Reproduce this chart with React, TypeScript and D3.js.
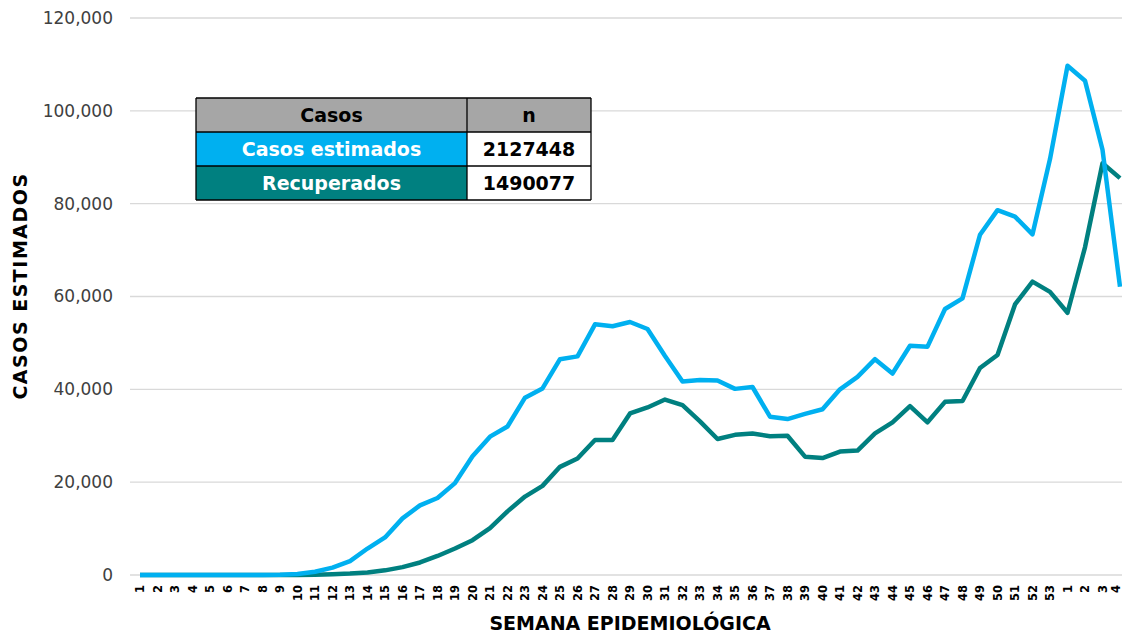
import React from "react";
import * as d3 from "d3";

const weeks: string[] = [
  "1","2","3","4","5","6","7","8","9","10","11","12","13","14","15","16","17","18","19","20",
  "21","22","23","24","25","26","27","28","29","30","31","32","33","34","35","36","37","38","39","40",
  "41","42","43","44","45","46","47","48","49","50","51","52","53","1","2","3","4",
];

const casosEstimados: number[] = [
  0, 0, 0, 0, 0, 0, 0, 0, 50, 200, 700, 1600, 3000, 5700, 8100, 12200, 15000, 16600, 19800, 25600,
  29800, 32000, 38200, 40200, 46500, 47100, 54000, 53600, 54500, 53000, 47200, 41700, 42000, 41900, 40100, 40500, 34100, 33600, 34700, 35700,
  40000, 42700, 46500, 43400, 49400, 49200, 57300, 59600, 73300, 78600, 77200, 73400, 89600, 109700, 106500, 91600, 62100,
];

const recuperados: number[] = [
  0, 0, 0, 0, 0, 0, 0, 0, 0, 0, 50, 150, 300, 550, 1000, 1700, 2700, 4100, 5700, 7500,
  10100, 13700, 16900, 19200, 23300, 25100, 29100, 29100, 34800, 36100, 37800, 36600, 33100, 29300, 30200, 30500, 29900, 30000, 25500, 25200,
  26600, 26800, 30500, 32900, 36400, 32900, 37300, 37500, 44600, 47400, 58300, 63200, 61000, 56500, 70600, 88700, 85500,
];

const yTicks: number[] = [0, 20000, 40000, 60000, 80000, 100000, 120000];

const tableHeader: string[] = ["Casos", "n"];
const tableRows: { label: string; value: string; color: string }[] = [
  { label: "Casos estimados", value: "2127448", color: "#00B0F0" },
  { label: "Recuperados", value: "1490077", color: "#008080" },
];

const W = 1122;
const H = 633;
const FONT = "'DejaVu Sans', sans-serif";

export default function App() {
  const idx = weeks.map((_, i) => String(i));
  const x = d3.scaleBand<string>().domain(idx).range([131.25, 1128.75]).padding(0);
  const y = d3.scaleLinear().domain([0, 120000]).range([575, 18]);
  const cx = (i: number) => (x(String(i)) as number) + x.bandwidth() / 2;

  const line = d3
    .line<number>()
    .x((_, i) => cx(i))
    .y((d) => y(d));

  const fmt = d3.format(",");

  const tx = 196;
  const ty = 98;
  const c1 = 271;
  const c2 = 124;
  const rh = 34;

  return (
    <svg
      width={W}
      height={H}
      style={{ position: "absolute", left: 0, top: 0, background: "#fff" }}
      fontFamily={FONT}
    >
      <rect x={0} y={0} width={W} height={H} fill="#fff" />
      {yTicks.map((t) => (
        <g key={t}>
          <line x1={130} x2={W} y1={y(t)} y2={y(t)} stroke="#d9d9d9" strokeWidth={1.3} />
          <text x={113} y={y(t)} dy="0.35em" textAnchor="end" fontSize={17} fill="#404040">
            {fmt(t)}
          </text>
        </g>
      ))}
      {weeks.map((w, i) => (
        <text
          key={i}
          transform={`translate(${Math.min(cx(i), W - 6)},585) rotate(-90)`}
          textAnchor="end"
          dy="0.35em"
          fontSize={11.5}
          fontWeight="bold"
          fill="#000"
        >
          {w}
        </text>
      ))}
      <path d={line(recuperados) || ""} fill="none" stroke="#008080" strokeWidth={4.5} strokeLinejoin="round" />
      <path d={line(casosEstimados) || ""} fill="none" stroke="#00B0F0" strokeWidth={4.5} strokeLinejoin="round" />

      <text
        transform="translate(20,286) rotate(-90)"
        textAnchor="middle"
        dy="0.35em"
        fontSize={19}
        letterSpacing={1.5}
        fontWeight="bold"
        fill="#000"
      >
        CASOS ESTIMADOS
      </text>
      <text x={630} y={623} textAnchor="middle" dy="0.35em" fontSize={19} fontWeight="bold" fill="#000">
        SEMANA EPIDEMIOLÓGICA
      </text>

      <g>
        <rect x={tx} y={ty} width={c1} height={rh} fill="#A6A6A6" />
        <rect x={tx + c1} y={ty} width={c2} height={rh} fill="#A6A6A6" />
        <text x={tx + c1 / 2} y={ty + rh / 2} dy="0.35em" textAnchor="middle" fontSize={19} fontWeight="bold" fill="#000">
          {tableHeader[0]}
        </text>
        <text x={tx + c1 + c2 / 2} y={ty + rh / 2} dy="0.35em" textAnchor="middle" fontSize={19} fontWeight="bold" fill="#000">
          {tableHeader[1]}
        </text>
        {tableRows.map((r, k) => {
          const ry = ty + rh * (k + 1);
          return (
            <g key={r.label}>
              <rect x={tx} y={ry} width={c1} height={rh} fill={r.color} />
              <rect x={tx + c1} y={ry} width={c2} height={rh} fill="#fff" />
              <text x={tx + c1 / 2} y={ry + rh / 2} dy="0.35em" textAnchor="middle" fontSize={19} fontWeight="bold" fill="#fff">
                {r.label}
              </text>
              <text x={tx + c1 + c2 / 2} y={ry + rh / 2} dy="0.35em" textAnchor="middle" fontSize={19} fontWeight="bold" fill="#000">
                {r.value}
              </text>
            </g>
          );
        })}
        {[0, 1, 2, 3].map((k) => (
          <line key={"h" + k} x1={tx} x2={tx + c1 + c2} y1={ty + rh * k} y2={ty + rh * k} stroke="#000" strokeWidth={1.3} />
        ))}
        {[0, c1, c1 + c2].map((o) => (
          <line key={"v" + o} x1={tx + o} x2={tx + o} y1={ty} y2={ty + rh * 3} stroke="#000" strokeWidth={1.3} />
        ))}
      </g>
    </svg>
  );
}
